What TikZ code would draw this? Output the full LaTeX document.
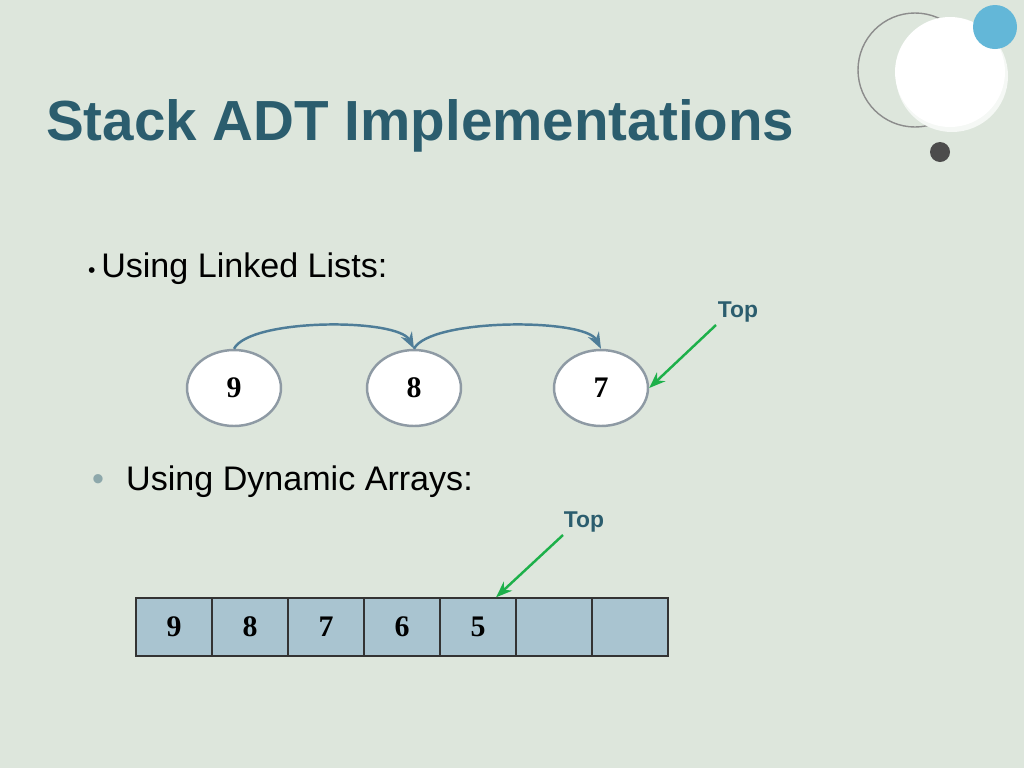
\documentclass[tikz,border=0pt]{standalone}
\usepackage{fontspec}
\setmainfont{Liberation Serif}
\setsansfont{Liberation Sans}
\usetikzlibrary{shapes.geometric, positioning, arrows.meta}
\definecolor{bgcol}{HTML}{DDE6DC}
\definecolor{titlecol}{HTML}{2B5D6E}
\definecolor{linkcol}{HTML}{4E7D98}
\definecolor{topcol}{HTML}{1DB04A}
\definecolor{cellcol}{HTML}{A9C4D0}
\definecolor{ringcol}{HTML}{8E9AA4}
\tikzset{
  elem/.style={draw=ringcol, line width=1.4pt, fill=white, ellipse, minimum width=1.88cm, minimum height=1.52cm, font=\fontsize{17}{17}\selectfont\bfseries},
  cell/.style={draw=black!80, thick, fill=cellcol, minimum width=1.52cm, minimum height=1.16cm, inner sep=0pt, font=\fontsize{17}{17}\selectfont\bfseries},
  toplbl/.style={text=titlecol, font=\sffamily\bfseries\fontsize{13}{13}\selectfont},
}
\begin{document}
\begin{tikzpicture}[x=0.02cm, y=-0.02cm, >=Stealth]
\useasboundingbox[fill=bgcol] (0,0) rectangle (1024,768);

% corner decoration
\draw[black!45, thick] (915,70) circle (57);
\fill[white!70!bgcol] (952,76) circle (56);
\fill[white] (950,72) circle (55);
\fill[cyan!60!teal!70!white] (995,27) circle (22);
\fill[black!70] (940,152) circle (10);

\node (title) [anchor=base west, text=titlecol, font=\sffamily\bfseries\fontsize{32.2}{32.2}\selectfont] at (40,140) {Stack ADT Implementations};

\node (b1) [anchor=base west, font=\sffamily\fontsize{19.4}{19.4}\selectfont] at (82,277) {{\fontsize{12}{12}\selectfont\textbullet}\,Using Linked Lists:};

\node (n9) at (234,388) [elem] {9};
\node (n8) at (414,388) [elem] {8};
\node (n7) at (601,388) [elem] {7};

\draw[->, linkcol, line width=1.4pt] (n9.north) .. controls (250,318) and (398,318) .. (n8.north);
\draw[->, linkcol, line width=1.4pt] (n8.north) .. controls (430,318) and (585,318) .. (n7.north);

\node (top1) at (738,312) [toplbl] {Top};
\coordinate (t1s) at (716,325);
\draw[->, topcol, line width=1.4pt] (t1s) -- (n7.east);

\node (b2dot) [anchor=base west, text=titlecol!45!bgcol, font=\sffamily\fontsize{19.4}{19.4}\selectfont] at (86,490) {\textbullet};
\node (b2) [anchor=base west, font=\sffamily\fontsize{19.4}{19.4}\selectfont] at (120,490) {Using Dynamic Arrays:};

\foreach \v [count=\i] in {9,8,7,6,5,{},{}}
  \node (c\i) at (136+76*\i-38,627) [cell] {\v};

\node (top2) at (584,522) [toplbl] {Top};
\coordinate (t2s) at (563,535);
\draw[->, topcol, line width=1.4pt] (t2s) -- ([xshift=0.36cm]c5.north);
\end{tikzpicture}
\end{document}
